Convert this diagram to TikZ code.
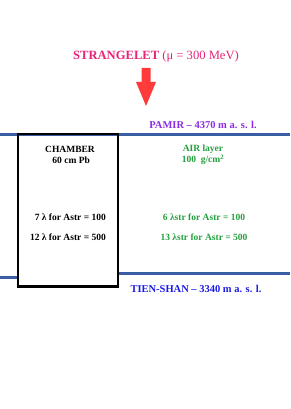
\documentclass[tikz,border=0pt]{standalone}
\usepackage{fontspec}
\setmainfont{Liberation Serif}
\usetikzlibrary{positioning}
\definecolor{strange}{HTML}{E8237A}
\definecolor{arrowred}{HTML}{FF3B3B}
\definecolor{pamir}{HTML}{8A2BE2}
\definecolor{level}{HTML}{3A5EA4}
\definecolor{air}{HTML}{22A03C}
\definecolor{tien}{HTML}{1A1AE6}

\tikzset{
  title/.style={font=\fontsize{12.6}{14}\selectfont, text=strange, inner sep=0pt},
  site/.style={font=\bfseries\fontsize{10.5}{12}\selectfont, inner sep=0pt},
  label/.style={font=\bfseries\fontsize{9.5}{11.5}\selectfont, align=center, inner sep=0pt},
  levelline/.style={level, line width=3pt}
}

\begin{document}
\begin{tikzpicture}[x=1pt,y=-1pt]
\useasboundingbox (0,0) rectangle (290,409);

% --- strangelet coming in ---
\node[title] (strange) at (156,56) {\textbf{STRANGELET} (μ = 300 MeV)};
\fill[arrowred] (141.5,68) -- (150.5,68) -- (150.5,82) -- (156,82) -- (146,106)
  -- (136,82) -- (141.5,82) -- cycle;

% --- Pamir level ---
\node[site, text=pamir] (pamir) at (203,125) {PAMIR – 4370 m a. s. l.};
\draw[levelline] (0,134) -- (290,134);

% --- chamber ---
\draw[levelline] (0,277) -- (18,277);
\draw[levelline] (118,273) -- (290,273);
\node[draw=black, line width=1.5pt, minimum width=100pt, minimum height=152pt,
      inner sep=0pt] (chamber) at (68,210) {};
\draw[line width=2.5pt] (chamber.south west) -- (chamber.south east);

\node[label] (cham) at (70,155) {CHAMBER\\ \ 60 cm Pb};
\node[label, text=air] (airl) at (203,155) {AIR layer\\ 100 \ g/cm\textsuperscript{2}};

\node[label, anchor=east] (c100) at (106,217) {7 λ for Astr = 100};
\node[label, anchor=east] (c500) at (106,237) {12 λ for Astr = 500};
\node[label, text=air] (a100) at (204,217) {6 λstr for Astr = 100};
\node[label, text=air] (a500) at (204,237) {13 λstr for Astr = 500};

% --- Tien-Shan level ---
\node[site, text=tien] (tien) at (196,289) {TIEN-SHAN – 3340 m a. s. l.};
\end{tikzpicture}
\end{document}
